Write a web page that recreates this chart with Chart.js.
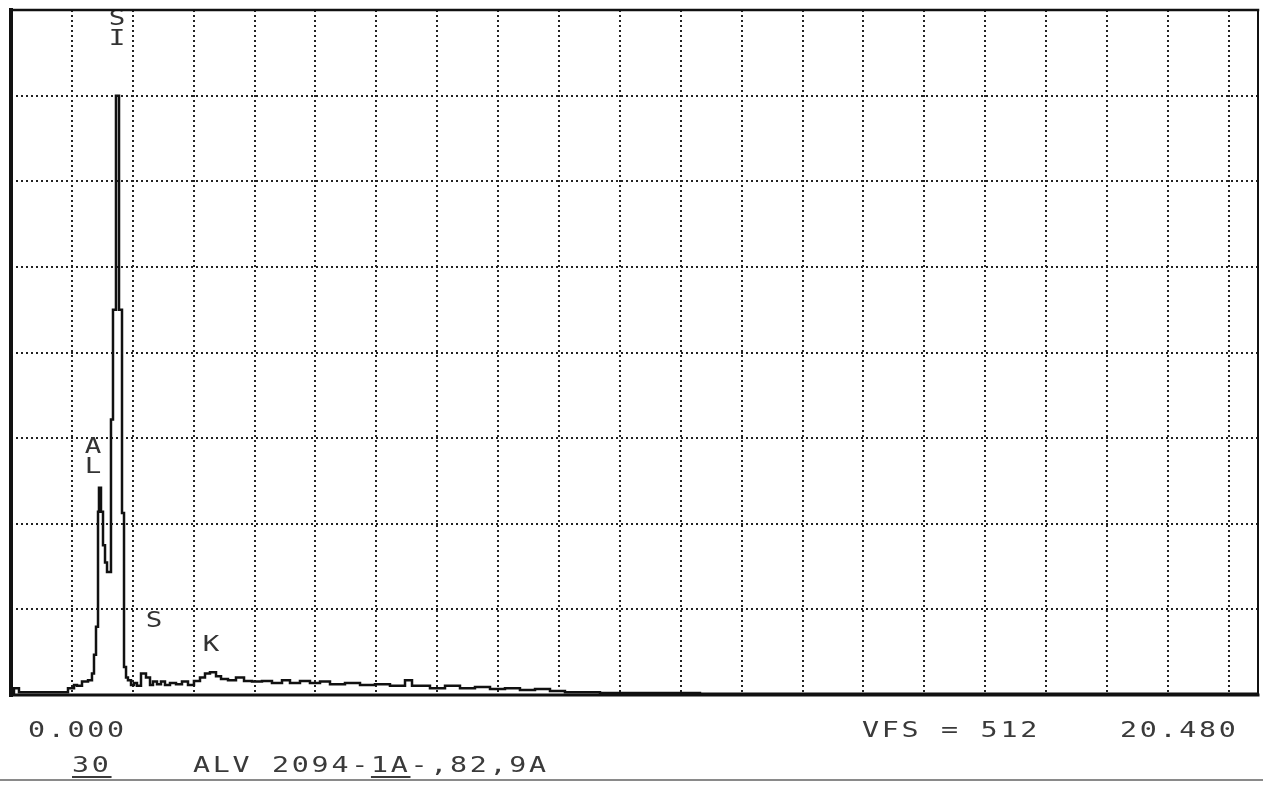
<!DOCTYPE html>
<html>
<head>
<meta charset="utf-8">
<title>EDS spectrum</title>
<script src="https://cdn.jsdelivr.net/npm/chart.js@4.4.1/dist/chart.umd.min.js"></script>
<style>
  html, body { margin: 0; padding: 0; background: #fff; }
  #page { position: relative; width: 1263px; height: 786px; overflow: hidden; }
  #chartBox { position: absolute; left: 0; top: 0; width: 1263px; height: 786px; }
  .txt { position: absolute; font-family: "DejaVu Sans Mono", monospace; font-size: 21px; line-height: 21px;
         letter-spacing: 2px; color: #3a3a3a; white-space: pre;
         transform: scaleX(1.35); transform-origin: 0 0; }
  .txt u { text-underline-offset: 4px; }
  .rule { position: absolute; left: 0; width: 1263px; top: 779px; height: 2px; background: #8a8a8a; }
</style>
</head>
<body>
<div id="page">
  <div id="chartBox"><canvas id="spec"></canvas></div>
  <div class="txt" style="left:28px; top:720px">0.000</div>
  <div class="txt" style="left:862px; top:720px">VFS = 512</div>
  <div class="txt" style="left:1120px; top:720px">20.480</div>
  <div class="txt" style="left:72px; top:755px"><u>30</u></div>
  <div class="txt" style="left:193px; top:755px">ALV 2094-<u>1A</u>-,82,9A</div>
  <div class="rule"></div>
</div>
<script>
// ---------- data ----------
const energyKeV = [
  0, 0.049, 0.131, 0.936, 1.035, 1.084, 1.166, 1.265, 1.330, 1.363,
  1.396, 1.429, 1.445, 1.478, 1.511, 1.544, 1.577, 1.642, 1.675, 1.724,
  1.774, 1.823, 1.856, 1.889, 1.921, 1.971, 2.020, 2.069, 2.135, 2.217,
  2.283, 2.332, 2.398, 2.463, 2.529, 2.611, 2.710, 2.808, 2.907, 3.005,
  3.104, 3.186, 3.268, 3.367, 3.449, 3.564, 3.695, 3.827, 3.958, 4.122,
  4.286, 4.451, 4.582, 4.746, 4.910, 5.075, 5.239, 5.485, 5.732, 5.978,
  6.224, 6.471, 6.586, 6.881, 7.128, 7.374, 7.620, 7.867, 8.113, 8.359,
  8.606, 8.852, 9.098, 9.673, 11.315, 20.48
];
const counts = [
  1.5, 5, 2, 5, 7.5, 7, 10, 11, 16, 30,
  51, 137, 155, 137, 112, 99, 92, 206, 288, 448,
  288, 136, 21, 13, 11, 7.5, 9, 7, 16, 13,
  7.5, 10, 8, 10, 7.5, 9, 8, 10, 7.5, 10.5,
  13, 16, 17, 14, 12, 11, 13, 10.5, 10, 10.5,
  9, 11, 9, 10.5, 9, 10, 8, 9, 7.5, 8,
  7, 11, 7, 5, 7, 5, 6, 4.5, 5, 3.7,
  4.5, 3, 2, 1.5, 1, 1
];
const xGridKeV = [1, 2, 3, 4, 5, 6, 7, 8, 9, 10, 11, 12, 13, 14, 15, 16, 17, 18, 19, 20];
const yGridCounts = [64, 128, 192, 256, 320, 384, 448];
const fullScaleKeV = 20.48;
const vfsCounts = 512;

// element markers printed beside the peaks (stacked letters)
const peakLabels = ['S', 'I', 'A', 'L', 'S', 'K'];
const peakLabelKeV = [1.741, 1.741, 1.347, 1.347, 2.349, 3.285];
const peakLabelCounts = [505, 490, 185, 170, 55, 37];

// ---------- plugins ----------
const framePlugin = {
  id: 'frame',
  afterDraw(chart) {
    const { ctx, chartArea: a } = chart;
    ctx.save();
    ctx.strokeStyle = '#111';
    ctx.lineCap = 'square';
    const side = (w, x1, y1, x2, y2) => {
      ctx.lineWidth = w;
      ctx.beginPath(); ctx.moveTo(x1, y1); ctx.lineTo(x2, y2); ctx.stroke();
    };
    side(4, a.left, a.top, a.left, a.bottom);
    side(2.5, a.left, a.top, a.right, a.top);
    side(2, a.right, a.top, a.right, a.bottom);
    side(3, a.left, a.bottom, a.right, a.bottom);
    ctx.restore();
  }
};

const markerPlugin = {
  id: 'markers',
  afterDatasetsDraw(chart) {
    const { ctx, scales: { x, y } } = chart;
    ctx.save();
    ctx.font = '22px "DejaVu Sans Mono", monospace';
    ctx.fillStyle = '#333';
    ctx.textAlign = 'center';
    ctx.textBaseline = 'middle';
    peakLabels.forEach((t, i) => {
      const px = x.getPixelForValue(peakLabelKeV[i]);
      const py = y.getPixelForValue(peakLabelCounts[i]);
      ctx.save();
      ctx.translate(px, py);
      ctx.scale(1.25, 1);
      ctx.fillText(t, 0, 0);
      ctx.restore();
    });
    ctx.restore();
  }
};

const gridOnly = (values) => (scale) => { scale.ticks = values.map(v => ({ value: v })); };

new Chart(document.getElementById('spec'), {
  type: 'line',
  data: {
    datasets: [{
      data: energyKeV.map((e, i) => ({ x: e, y: counts[i] })),
      stepped: 'before',
      borderColor: '#111',
      borderWidth: 2.5,
      pointRadius: 0,
      fill: false
    }]
  },
  options: {
    responsive: true,
    maintainAspectRatio: false,
    animation: false,
    layout: { padding: { left: 11, right: 5, top: 10, bottom: 91 } },
    scales: {
      x: {
        type: 'linear',
        min: 0,
        max: fullScaleKeV,
        afterBuildTicks: gridOnly(xGridKeV),
        afterFit: s => { s.height = 0; },
        ticks: { display: false },
        grid: { color: '#222', lineWidth: 2, drawTicks: false },
        border: { display: false, dash: [2, 3] }
      },
      y: {
        min: 0,
        max: vfsCounts,
        afterBuildTicks: gridOnly(yGridCounts),
        afterFit: s => { s.width = 0; },
        ticks: { display: false },
        grid: { color: '#222', lineWidth: 2, drawTicks: false },
        border: { display: false, dash: [2, 3] }
      }
    },
    plugins: {
      legend: { display: false },
      tooltip: { enabled: false }
    }
  },
  plugins: [framePlugin, markerPlugin]
});
</script>
</body>
</html>
